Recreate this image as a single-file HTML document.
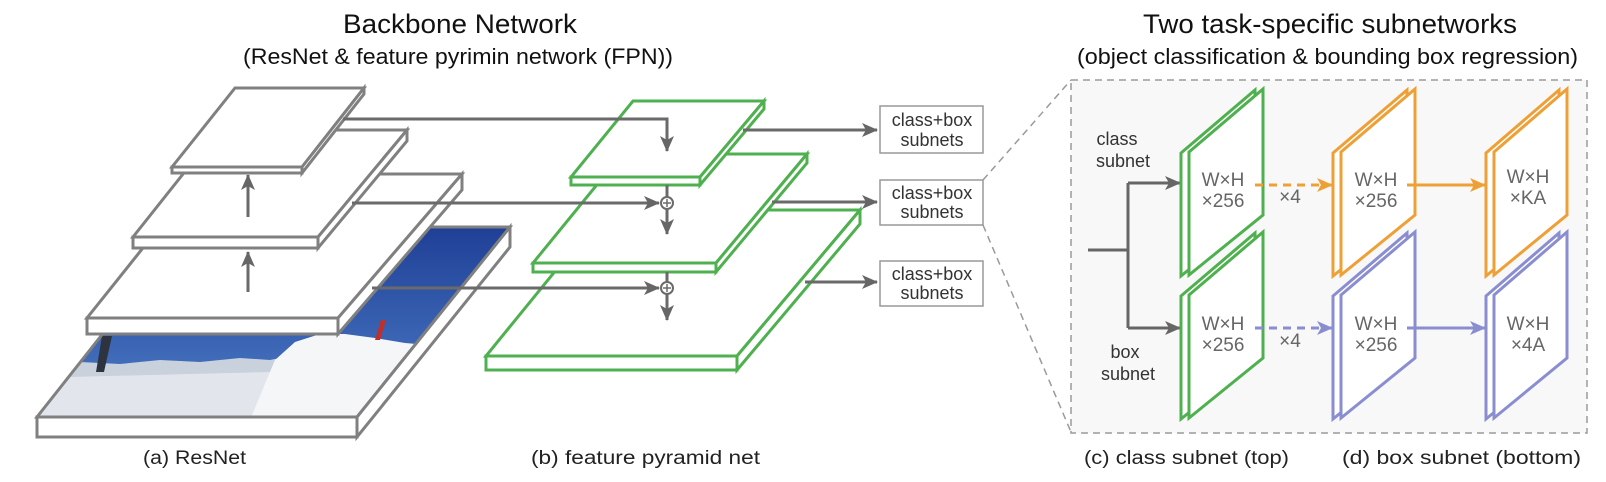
<!DOCTYPE html>
<html><head><meta charset="utf-8"><style>
html,body{margin:0;padding:0;background:#fff;}
svg{display:block;}
text{font-family:"Liberation Sans",sans-serif;}
</style></head><body>
<svg width="1606" height="482" viewBox="0 0 1606 482" xmlns="http://www.w3.org/2000/svg">
<defs>
<marker id="ag" markerUnits="userSpaceOnUse" markerWidth="16" markerHeight="14" refX="15" refY="7" orient="auto"><path d="M0,0 L16,7 L0,14 L4,7 z" fill="#666"/></marker>
<marker id="ao" markerUnits="userSpaceOnUse" markerWidth="16" markerHeight="14" refX="15" refY="7" orient="auto"><path d="M0,0 L16,7 L0,14 L4,7 z" fill="#eea036"/></marker>
<marker id="ab" markerUnits="userSpaceOnUse" markerWidth="16" markerHeight="14" refX="15" refY="7" orient="auto"><path d="M0,0 L16,7 L0,14 L4,7 z" fill="#8a8ed0"/></marker>
<linearGradient id="sky" x1="0" y1="0" x2="0" y2="1"><stop offset="0" stop-color="#1d3d94"/><stop offset="1" stop-color="#4f7fc9"/></linearGradient>
<clipPath id="imgclip"><polygon points="187,227 510,227 357,417 37,417"/></clipPath>
</defs>

<text x="343" y="33" font-size="27" fill="#111" textLength="234" lengthAdjust="spacingAndGlyphs">Backbone Network</text>
<text x="243" y="64" font-size="22" fill="#111" textLength="430" lengthAdjust="spacingAndGlyphs">(ResNet &amp; feature pyrimin network (FPN))</text>
<text x="1143" y="33" font-size="27" fill="#111" textLength="374" lengthAdjust="spacingAndGlyphs">Two task-specific subnetworks</text>
<text x="1077" y="64" font-size="22" fill="#111" textLength="501" lengthAdjust="spacingAndGlyphs">(object classification &amp; bounding box regression)</text>

<text x="143" y="464" font-size="19" fill="#222" textLength="103" lengthAdjust="spacingAndGlyphs">(a) ResNet</text>
<text x="531" y="464" font-size="19" fill="#222" textLength="229" lengthAdjust="spacingAndGlyphs">(b) feature pyramid net</text>
<text x="1084" y="464" font-size="19" fill="#222" textLength="205" lengthAdjust="spacingAndGlyphs">(c) class subnet (top)</text>
<text x="1342" y="464" font-size="19" fill="#222" textLength="239" lengthAdjust="spacingAndGlyphs">(d) box subnet (bottom)</text>

<g clip-path="url(#imgclip)">
<rect x="30" y="220" width="490" height="200" fill="url(#sky)"/>
<polygon points="30,368 80,362 120,364 160,360 200,362 240,358 270,360 290,356 290,420 30,420" fill="#c9d1dd"/>
<polygon points="30,378 270,372 280,420 30,420" fill="#e2e6ec"/>
<polygon points="250,420 275,360 295,342 320,334 345,334 375,338 405,343 440,346 440,420" fill="#f5f6f8"/>
<polygon points="102,336 112,336 104,372 96,372" fill="#2d3440"/>
<polygon points="381,320 386,320 380,340 375,340" fill="#c0302a"/>
</g>
<g fill="#fff" stroke="#808080" stroke-width="3" stroke-linejoin="miter">
<polygon points="187,227 510,227 357,417 37,417" fill="none"/>
<polygon points="37,417 357,417 357,437 37,437"/>
<polygon points="510,227 510,247 357,437 357,417"/>
<polygon points="202,174 462,174 338,318 87,318"/>
<polygon points="87,318 338,318 338,334 87,334"/>
<polygon points="462,174 462,190 338,334 338,318"/>
<polygon points="218,130 407,130 318,237 133,237"/>
<polygon points="133,237 318,237 318,248 133,248"/>
<polygon points="407,130 407,141 318,248 318,237"/>
<polygon points="235,88 364,88 302,167 172,167"/>
<polygon points="172,167 302,167 302,173 172,173"/>
<polygon points="364,88 364,94 302,173 302,167"/>
</g>

<g fill="#fff" stroke="#4fb04f" stroke-width="3" stroke-linejoin="miter">
<polygon points="605,210 860,210 737,356 486,356"/>
<polygon points="486,356 737,356 737,370 486,370"/>
<polygon points="860,210 860,224 737,370 737,356"/>
<polygon points="622,154 807,154 716,263 533,263"/>
<polygon points="533,263 716,263 716,272 533,272"/>
<polygon points="807,154 807,163 716,272 716,263"/>
<polygon points="633,101 764,101 700,177 571,177"/>
<polygon points="571,177 700,177 700,185 571,185"/>
<polygon points="764,101 764,109 700,185 700,177"/>
</g>

<g stroke="#6a6a6a" stroke-width="3" fill="none">
<line x1="248" y1="292" x2="248" y2="252" marker-end="url(#ag)"/>
<line x1="248" y1="217" x2="248" y2="175" marker-end="url(#ag)"/>
<polyline points="343,119 667,119 667,151" marker-end="url(#ag)"/>
<line x1="352" y1="203" x2="659" y2="203" marker-end="url(#ag)"/>
<line x1="372" y1="288" x2="659" y2="288" marker-end="url(#ag)"/>
<line x1="667" y1="185" x2="667" y2="197"/>
<line x1="667" y1="272" x2="667" y2="282"/>
<line x1="667" y1="209" x2="667" y2="234" marker-end="url(#ag)"/>
<line x1="667" y1="294" x2="667" y2="320" marker-end="url(#ag)"/>
<circle cx="667" cy="203" r="6" stroke-width="2"/>
<circle cx="667" cy="288" r="6" stroke-width="2"/>
<line x1="663" y1="203" x2="671" y2="203" stroke-width="1.5"/>
<line x1="667" y1="199" x2="667" y2="207" stroke-width="1.5"/>
<line x1="663" y1="288" x2="671" y2="288" stroke-width="1.5"/>
<line x1="667" y1="284" x2="667" y2="292" stroke-width="1.5"/>
<line x1="743" y1="130" x2="877" y2="130" marker-end="url(#ag)"/>
<line x1="772" y1="202" x2="877" y2="202" marker-end="url(#ag)"/>
<line x1="805" y1="282" x2="877" y2="282" marker-end="url(#ag)"/>
</g>

<g fill="#fff" stroke="#999" stroke-width="1.5">
<rect x="880" y="106" width="103" height="47"/>
<rect x="880" y="180" width="103" height="45"/>
<rect x="880" y="261" width="103" height="45"/>
</g>
<g font-size="18" fill="#333" text-anchor="middle">
<text x="932" y="126">class+box</text><text x="932" y="146">subnets</text>
<text x="932" y="199">class+box</text><text x="932" y="218">subnets</text>
<text x="932" y="280">class+box</text><text x="932" y="299">subnets</text>
</g>

<g stroke="#9a9a9a" stroke-width="1.5" stroke-dasharray="7,5" fill="none">
<line x1="983" y1="180" x2="1071" y2="80"/>
<line x1="983" y1="225" x2="1071" y2="432"/>
</g>
<rect x="1071" y="80" width="516" height="353" fill="#f8f8f8" stroke="#9a9a9a" stroke-width="1.5" stroke-dasharray="7,5"/>

<g stroke="#666" stroke-width="3" fill="none">
<line x1="1088" y1="250" x2="1128" y2="250"/>
<line x1="1128" y1="183" x2="1128" y2="328"/>
<line x1="1128" y1="183" x2="1180" y2="183" marker-end="url(#ag)"/>
<line x1="1128" y1="328" x2="1180" y2="328" marker-end="url(#ag)"/>
</g>
<g font-size="18" fill="#333" text-anchor="middle">
<text x="1117" y="145">class</text><text x="1123" y="167">subnet</text>
<text x="1125" y="358">box</text><text x="1128" y="380">subnet</text>
</g>

<g fill="#fff" stroke-width="3" stroke-linejoin="miter">
<g stroke="#4fb04f">
<polygon points="1181,153 1255,90 1255,216 1181,276"/>
<polygon points="1189,152 1263,89 1263,215 1189,275"/>
<polygon points="1181,296 1255,233 1255,359 1181,419"/>
<polygon points="1189,295 1263,232 1263,358 1189,418"/>
</g>
<g stroke="#eea036">
<polygon points="1333,153 1407,90 1407,216 1333,276"/>
<polygon points="1341,152 1415,89 1415,215 1341,275"/>
<polygon points="1486,153 1559,90 1559,216 1486,276"/>
<polygon points="1494,152 1567,89 1567,215 1494,275"/>
</g>
<g stroke="#8a8ed0">
<polygon points="1333,296 1407,233 1407,359 1333,419"/>
<polygon points="1341,295 1415,232 1415,358 1341,418"/>
<polygon points="1486,296 1559,233 1559,359 1486,419"/>
<polygon points="1494,295 1567,232 1567,358 1494,418"/>
</g>
</g>
<g font-size="19" fill="#666" text-anchor="middle">
<text x="1223" y="186">W×H</text><text x="1223" y="207">×256</text>
<text x="1223" y="330">W×H</text><text x="1223" y="351">×256</text>
<text x="1376" y="186">W×H</text><text x="1376" y="207">×256</text>
<text x="1376" y="330">W×H</text><text x="1376" y="351">×256</text>
<text x="1528" y="183">W×H</text><text x="1528" y="204">×KA</text>
<text x="1528" y="330">W×H</text><text x="1528" y="351">×4A</text>
<text x="1290" y="203">×4</text><text x="1290" y="347">×4</text>
</g>
<g stroke-width="3" fill="none">
<line x1="1255" y1="185" x2="1332" y2="185" stroke="#eea036" stroke-dasharray="8,6" marker-end="url(#ao)"/>
<line x1="1407" y1="185" x2="1485" y2="185" stroke="#eea036" marker-end="url(#ao)"/>
<line x1="1255" y1="328" x2="1332" y2="328" stroke="#8a8ed0" stroke-dasharray="8,6" marker-end="url(#ab)"/>
<line x1="1407" y1="328" x2="1485" y2="328" stroke="#8a8ed0" marker-end="url(#ab)"/>
</g>
</svg>
</body></html>
